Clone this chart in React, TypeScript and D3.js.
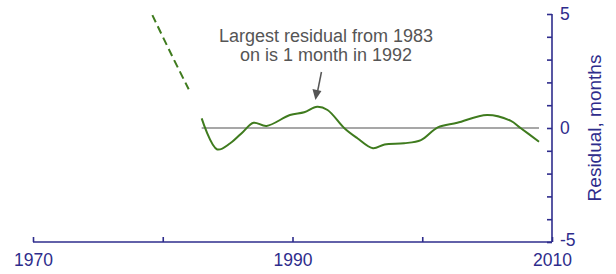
import React, { useEffect, useRef } from 'react';
import * as d3 from 'd3';

// residual (months)
const solidYears = [1983.0, 1984.2, 1985.2, 1986.2, 1987.0, 1988.0, 1989.8, 1990.9, 1991.9, 1992.7, 1994.0, 1995.0, 1996.2, 1997.1, 1998.6, 1999.9, 2001.2, 2002.7, 2005.0, 2006.8, 2007.6, 2009.0];
const solidValues = [0.42, -0.94, -0.67, -0.16, 0.23, 0.09, 0.57, 0.69, 0.93, 0.79, -0.01, -0.45, -0.89, -0.72, -0.67, -0.53, 0.03, 0.23, 0.57, 0.32, -0.01, -0.6];
const dashedYears = [1979.2, 1980.6, 1982.0];
const dashedValues = [4.95, 3.3, 1.7];
const zeroLineYears = [1983, 2009];

const xTicks = [1970, 1980, 1990, 2000, 2010];
const xTickLabels = ['1970', '', '1990', '', '2010'];
const yTicks = [-5, -4, -3, -2, -1, 0, 1, 2, 3, 4, 5];
const yTickLabels = ['-5', '', '', '', '', '0', '', '', '', '', '5'];
const annotationLines = ['Largest residual from 1983', 'on is 1 month in 1992'];
const yTitle = 'Residual, months';

const W = 616;
const H = 274;
const AXIS = '#2e2c8c';
const GREEN = '#3f7b1e';
const FONT = '"Liberation Sans", Arial, Helvetica, sans-serif';

function Chart() {
  const ref = useRef<SVGSVGElement>(null);

  useEffect(() => {
    const svg = d3.select(ref.current);
    svg.selectAll('*').remove();

    const x = d3.scaleLinear().domain([1970, 2010]).range([33, 552]);
    const y = d3.scaleLinear().domain([-5, 5]).range([242, 14]);

    // zero reference line
    svg.append('line')
      .attr('x1', x(zeroLineYears[0])).attr('x2', x(zeroLineYears[1]))
      .attr('y1', y(0)).attr('y2', y(0))
      .attr('stroke', '#8a8a8a').attr('stroke-width', 1.6);

    const line = d3.line<[number, number]>()
      .x(d => x(d[0]))
      .y(d => y(d[1]))
      .curve(d3.curveCatmullRom.alpha(0.5));

    svg.append('path')
      .attr('d', line(dashedYears.map((yr, i) => [yr, dashedValues[i]] as [number, number])))
      .attr('fill', 'none').attr('stroke', GREEN).attr('stroke-width', 2)
      .attr('stroke-dasharray', '8,4.5');

    svg.append('path')
      .attr('d', line(solidYears.map((yr, i) => [yr, solidValues[i]] as [number, number])))
      .attr('fill', 'none').attr('stroke', GREEN).attr('stroke-width', 2);

    // bottom axis
    const xAxis = d3.axisBottom(x)
      .tickValues(xTicks)
      .tickSizeInner(-5).tickSizeOuter(0)
      .tickPadding(12)
      .tickFormat((_, i) => xTickLabels[i]);
    const gx = svg.append('g').attr('transform', `translate(0,${y(-5)})`).call(xAxis);

    // right axis
    const yAxis = d3.axisRight(y)
      .tickValues(yTicks)
      .tickSizeInner(-5).tickSizeOuter(0)
      .tickPadding(8)
      .tickFormat((_, i) => yTickLabels[i]);
    const gy = svg.append('g').attr('transform', `translate(${x(2010)},0)`).call(yAxis);

    [gx, gy].forEach(g => {
      g.selectAll('path, line').attr('stroke', AXIS).attr('stroke-width', 1.6);
      g.selectAll('text').attr('fill', AXIS).style('font-family', FONT).style('font-size', '17.5px');
    });
    gy.select('.domain').attr('d', `M${0},${y(5)}H0V${y(-5)}`);
    gx.select('.domain').attr('d', `M${x(1970)},0H${x(2010)}`);
    // -5 sits just above the 2010 label
    gy.selectAll<SVGTextElement, number>('text').filter(d => d === -5).attr('dy', '0.2em');

    svg.append('text')
      .attr('transform', `translate(601,${y(0)}) rotate(-90)`)
      .attr('text-anchor', 'middle')
      .attr('fill', AXIS)
      .style('font-family', FONT).style('font-size', '19px')
      .text(yTitle);

    // annotation
    const ann = svg.append('text')
      .attr('text-anchor', 'middle')
      .attr('fill', '#555')
      .style('font-family', FONT).style('font-size', '18px');
    annotationLines.forEach((t, i) => {
      ann.append('tspan').attr('x', 326).attr('y', 42 + i * 18.5).text(t);
    });

    const ax = x(1992);
    svg.append('line')
      .attr('x1', ax + 3).attr('y1', 72).attr('x2', ax - 1).attr('y2', 92)
      .attr('stroke', '#555').attr('stroke-width', 1.5);
    svg.append('path')
      .attr('d', `M${ax - 6},${89}L${ax + 3},${91}L${ax - 3},${100}Z`)
      .attr('fill', '#555');
  }, []);

  return <svg ref={ref} width={W} height={H} style={{ position: 'absolute', left: 0, top: 0, background: '#fff' }} />;
}

export default function App() {
  return <Chart />;
}
